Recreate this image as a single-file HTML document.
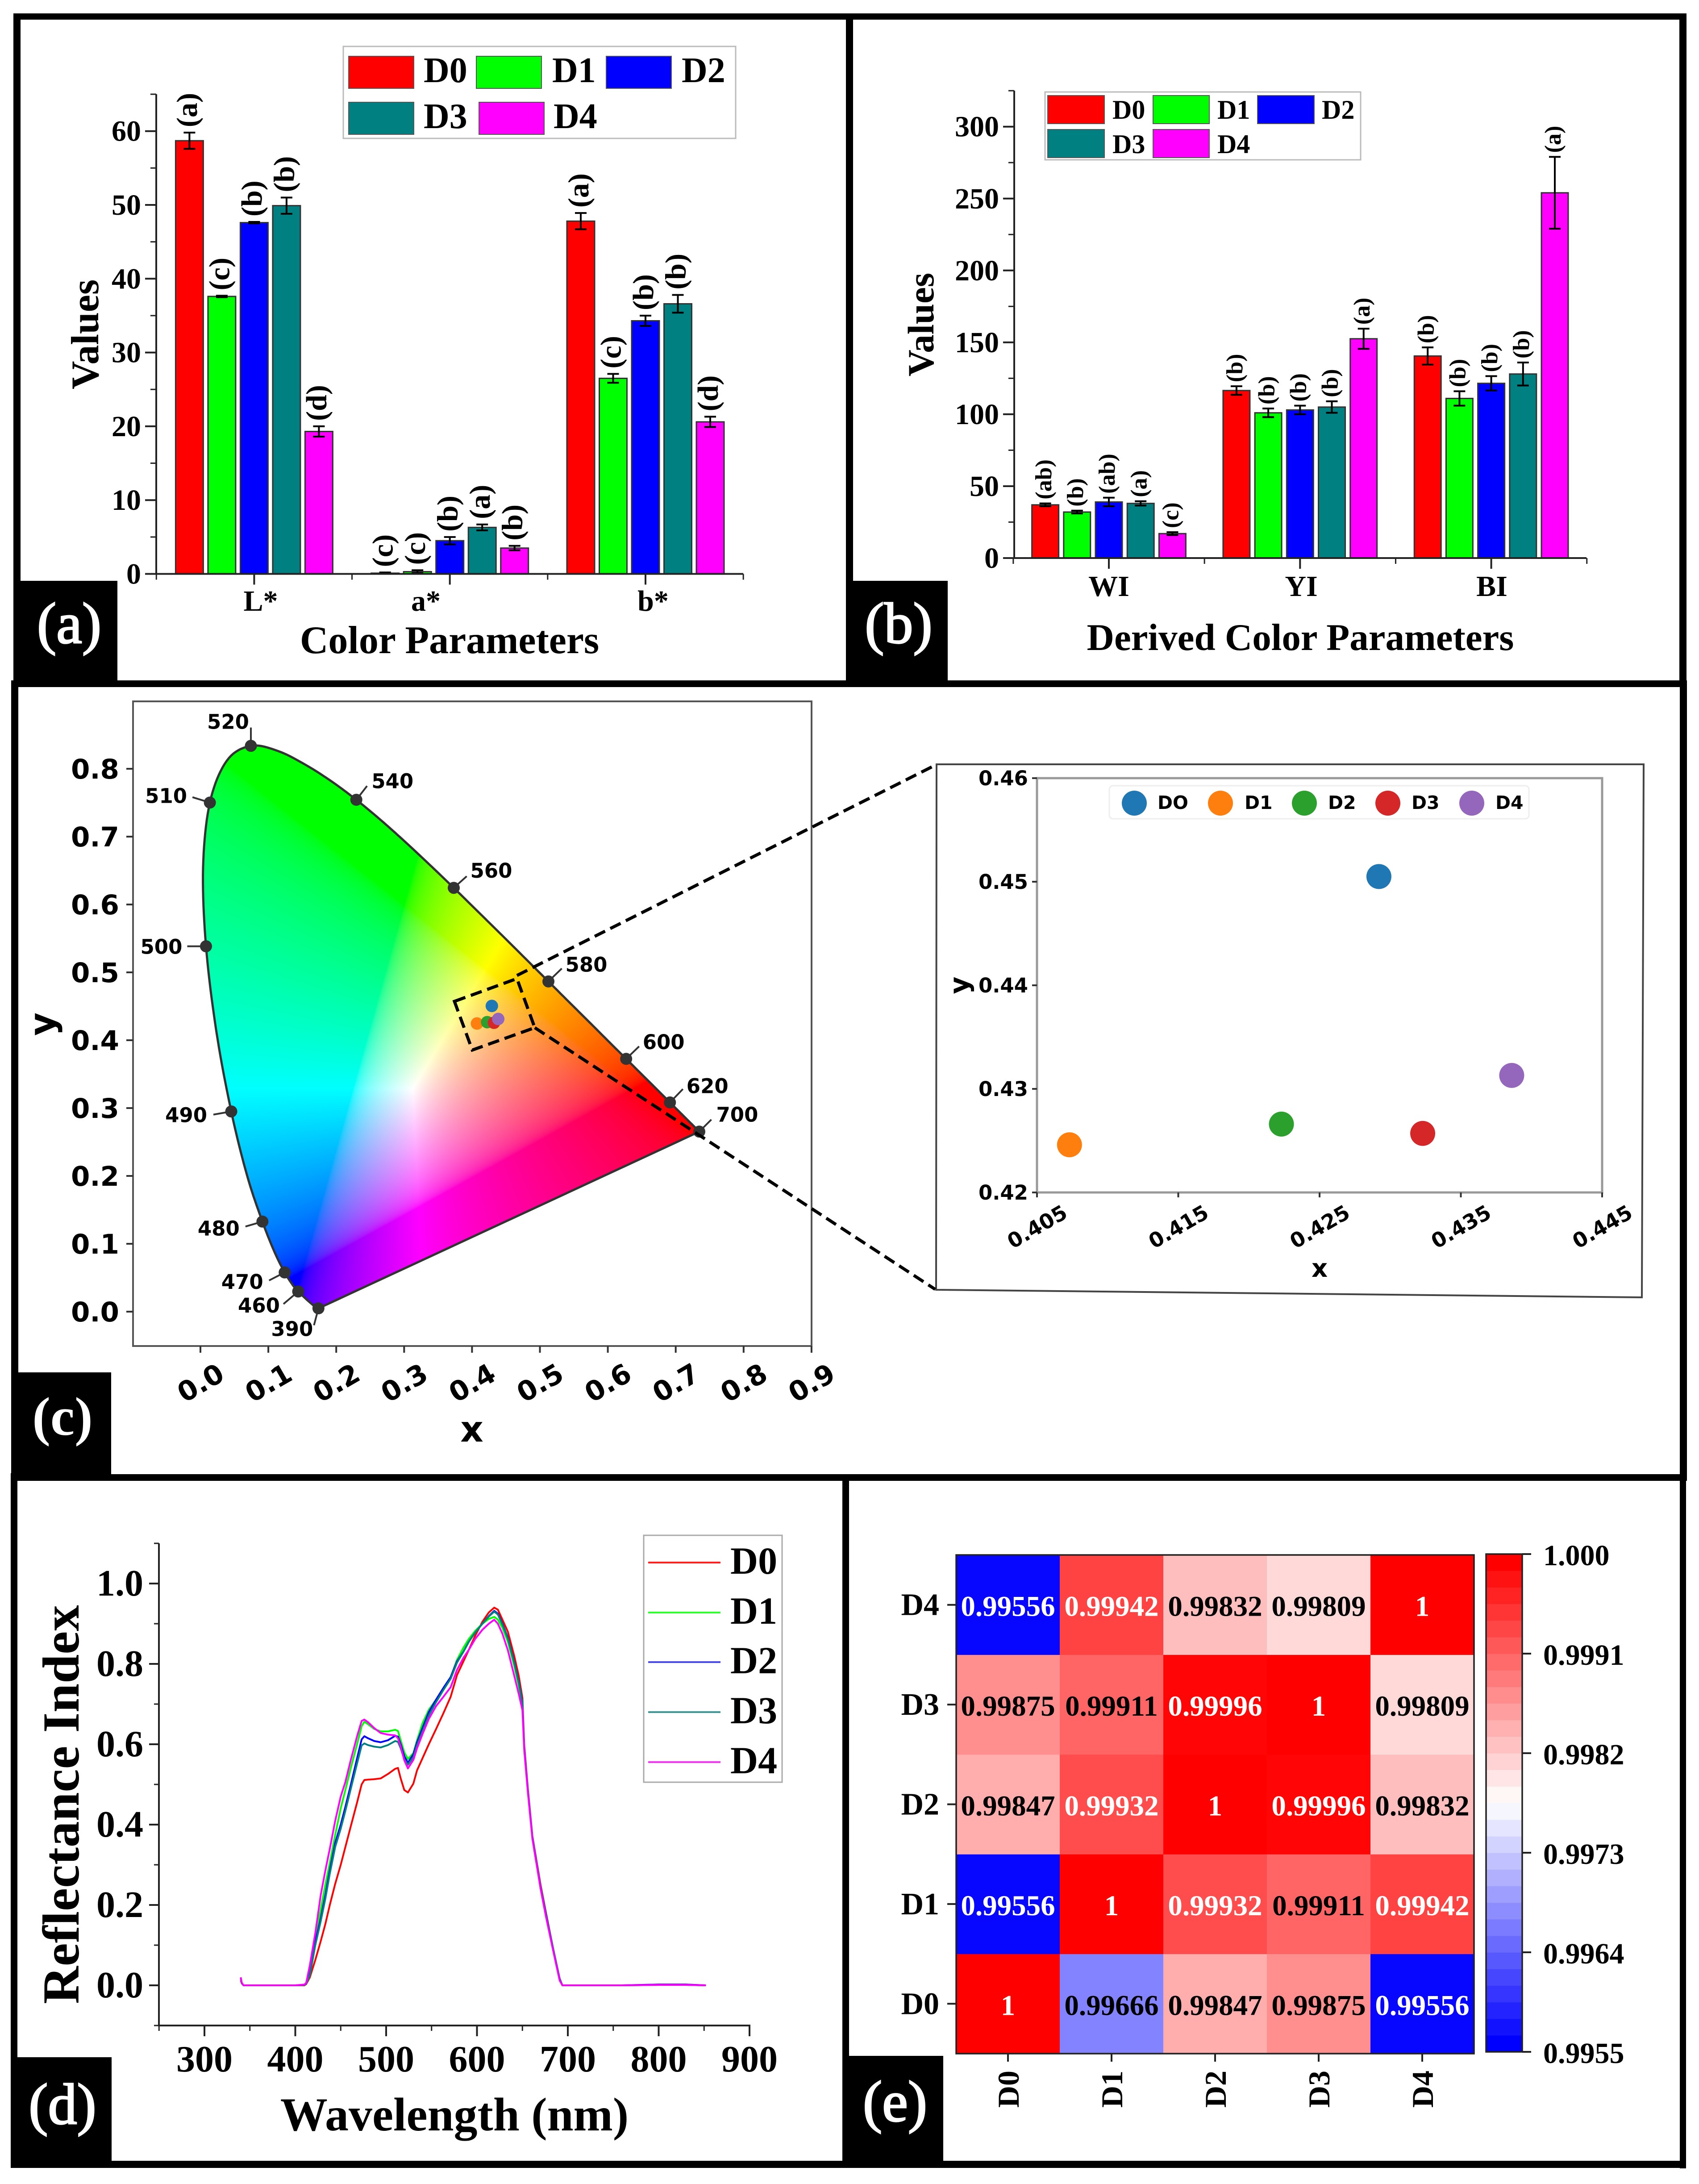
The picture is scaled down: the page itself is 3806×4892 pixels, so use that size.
<!DOCTYPE html>
<html lang="en">
<head>
<meta charset="utf-8">
<title>Color analysis figure</title>
<style>
html,body{margin:0;padding:0;background:#fff;}
body{position:relative;width:3806px;height:4892px;overflow:hidden;}
#gamut{position:absolute;left:430px;top:1640px;}
#chart{position:absolute;left:0;top:0;}
text{fill:#000;}
.tb{font-family:"Liberation Serif",serif;font-weight:bold;}
.tr{font-family:"Liberation Serif",serif;}
.dv{font-family:"DejaVu Sans",sans-serif;font-weight:bold;}
text.pl{fill:#fff;font-size:130px;text-anchor:middle;stroke:#fff;stroke-width:3px;}
</style>
</head>
<body>
<canvas id="gamut" width="1170" height="1320"></canvas>
<svg id="chart" xmlns="http://www.w3.org/2000/svg" width="3806" height="4892" viewBox="0 0 3806 4892">

<g id="panel-a">
  <text class="tb" font-size="88" transform="rotate(-90 220 749)" x="220" y="749" text-anchor="middle">Values</text>
  <text class="tb" font-size="88" x="1007" y="1463" text-anchor="middle">Color Parameters</text>
  <text class="tb" font-size="66" x="584" y="1368" text-anchor="middle">L*</text>
  <text class="tb" font-size="66" x="954" y="1368" text-anchor="middle">a*</text>
  <text class="tb" font-size="66" x="1463" y="1368" text-anchor="middle">b*</text>
  <g>
    <rect x="769" y="104" width="879" height="206" fill="#fff" stroke="#bbb" stroke-width="3"/>
    <rect x="781" y="126" width="146" height="72" fill="#f00" stroke="#555" stroke-width="2"/>
    <rect x="1067" y="126" width="146" height="72" fill="#0f0" stroke="#555" stroke-width="2"/>
    <rect x="1358" y="126" width="146" height="72" fill="#00f" stroke="#555" stroke-width="2"/>
    <rect x="781" y="229" width="146" height="72" fill="#008080" stroke="#555" stroke-width="2"/>
    <rect x="1073" y="229" width="146" height="72" fill="#f0f" stroke="#555" stroke-width="2"/>
    <text class="tb" font-size="80" x="949" y="184">D0</text>
    <text class="tb" font-size="80" x="1237" y="184">D1</text>
    <text class="tb" font-size="80" x="1527" y="184">D2</text>
    <text class="tb" font-size="80" x="949" y="287">D3</text>
    <text class="tb" font-size="80" x="1240" y="287">D4</text>
  </g>
</g>

<g id="panel-b">
  <text class="tb" font-size="83" transform="rotate(-90 2091 727)" x="2091" y="727" text-anchor="middle">Values</text>
  <text class="tb" font-size="85" x="2913" y="1456" text-anchor="middle">Derived Color Parameters</text>
  <text class="tb" font-size="66" x="2484" y="1335" text-anchor="middle">WI</text>
  <text class="tb" font-size="66" x="2915" y="1335" text-anchor="middle">YI</text>
  <text class="tb" font-size="66" x="3342" y="1335" text-anchor="middle">BI</text>
  <g>
    <rect x="2341" y="206" width="707" height="152" fill="#fff" stroke="#bbb" stroke-width="3"/>
    <rect x="2347" y="214" width="127" height="63" fill="#f00" stroke="#555" stroke-width="2"/>
    <rect x="2583" y="214" width="126" height="63" fill="#0f0" stroke="#555" stroke-width="2"/>
    <rect x="2817" y="214" width="127" height="63" fill="#00f" stroke="#555" stroke-width="2"/>
    <rect x="2347" y="290" width="127" height="63" fill="#008080" stroke="#555" stroke-width="2"/>
    <rect x="2583" y="290" width="126" height="63" fill="#f0f" stroke="#555" stroke-width="2"/>
    <text class="tb" font-size="60" x="2492" y="266">D0</text>
    <text class="tb" font-size="60" x="2727" y="266">D1</text>
    <text class="tb" font-size="60" x="2961" y="266">D2</text>
    <text class="tb" font-size="60" x="2492" y="343">D3</text>
    <text class="tb" font-size="60" x="2727" y="343">D4</text>
  </g>
</g>

<g id="panel-c">
  <rect x="298" y="1571" width="1520" height="1444" fill="none" stroke="#555" stroke-width="4"/>
  <text class="dv" font-size="80" x="1057" y="3229" text-anchor="middle">x</text>
  <text class="dv" font-size="80" transform="rotate(-90 122 2294)" x="122" y="2294" text-anchor="middle">y</text>
</g>

<g id="panel-inset">
  <polygon points="2098,1712 3682,1712 3678,2906 2097,2889" fill="#fff" stroke="#444" stroke-width="4"/>
  <rect x="2323" y="1743" width="1266" height="928" fill="none" stroke="#999" stroke-width="5"/>
  <text class="dv" font-size="56" x="2956" y="2860" text-anchor="middle" fill="#222">x</text>
  <text class="dv" font-size="60" transform="rotate(-90 2169 2207)" x="2169" y="2207" text-anchor="middle">y</text>
  <g>
    <rect x="2485" y="1760" width="940" height="74" rx="8" fill="#fff" stroke="#eee" stroke-width="3"/>
    <circle cx="2541" cy="1799" r="28" fill="#1f77b4"/>
    <circle cx="2734" cy="1799" r="28" fill="#ff7f0e"/>
    <circle cx="2922" cy="1799" r="28" fill="#2ca02c"/>
    <circle cx="3109" cy="1799" r="28" fill="#d62728"/>
    <circle cx="3297" cy="1799" r="28" fill="#9467bd"/>
    <text class="dv" font-size="41" x="2593" y="1812">DO</text>
    <text class="dv" font-size="41" x="2788" y="1812">D1</text>
    <text class="dv" font-size="41" x="2975" y="1812">D2</text>
    <text class="dv" font-size="41" x="3162" y="1812">D3</text>
    <text class="dv" font-size="41" x="3350" y="1812">D4</text>
  </g>
</g>

<g id="panel-d">
  <text class="tb" font-size="117" transform="rotate(-90 176 4042)" x="176" y="4042" text-anchor="middle">Reflectance Index</text>
  <text class="tb" font-size="106" x="1018" y="4772" text-anchor="middle">Wavelength (nm)</text>
  <g>
    <rect x="1442" y="3439" width="310" height="553" fill="#fff" stroke="#aaa" stroke-width="3"/>
    <line x1="1452" x2="1614" y1="3500" y2="3500" stroke="#ff2020" stroke-width="4"/>
    <line x1="1452" x2="1614" y1="3612" y2="3612" stroke="#30ff30" stroke-width="4"/>
    <line x1="1452" x2="1614" y1="3723" y2="3723" stroke="#4848ff" stroke-width="4"/>
    <line x1="1452" x2="1614" y1="3835" y2="3835" stroke="#3a9a9a" stroke-width="4"/>
    <line x1="1452" x2="1614" y1="3947" y2="3947" stroke="#ff30ff" stroke-width="4"/>
    <text class="tb" font-size="86" x="1636" y="3525">D0</text>
    <text class="tb" font-size="86" x="1636" y="3637">D1</text>
    <text class="tb" font-size="86" x="1636" y="3748">D2</text>
    <text class="tb" font-size="86" x="1636" y="3860">D3</text>
    <text class="tb" font-size="86" x="1636" y="3972">D4</text>
  </g>
</g>

<g id="panel-e"></g>

<g id="overlay">
  <rect x="30" y="30" width="3748" height="14" fill="#000"/>
  <rect x="30" y="30" width="16" height="1508" fill="#000"/>
  <rect x="25" y="1524" width="16" height="1793" fill="#000"/>
  <rect x="24" y="3300" width="15" height="1555" fill="#000"/>
  <rect x="30" y="1524" width="3748" height="15" fill="#000"/>
  <rect x="1895" y="44" width="16" height="1490" fill="#000"/>
  <rect x="3762" y="30" width="16" height="1508" fill="#000"/>
  <rect x="3763" y="1524" width="16" height="1793" fill="#000"/>
  <rect x="3763" y="3300" width="14" height="1557" fill="#000"/>
  <rect x="25" y="3302" width="3754" height="15" fill="#000"/>
  <rect x="24" y="4840" width="3753" height="16" fill="#000"/>
  <rect x="1887" y="3317" width="15" height="1530" fill="#000"/>
  <rect x="43" y="1301" width="220" height="224" fill="#000"/>
  <text class="tr pl" x="155" y="1440">(a)</text>
  <rect x="1905" y="1301" width="218" height="224" fill="#000"/>
  <text class="tr pl" x="2013" y="1440">(b)</text>
  <rect x="41" y="3074" width="208" height="230" fill="#000"/>
  <text class="tb pl" x="140" y="3214" style="font-size:122px;stroke-width:0">(c)</text>
  <rect x="36" y="4608" width="214" height="232" fill="#000"/>
  <text class="tr pl" x="140" y="4757">(d)</text>
  <rect x="1902" y="4605" width="211" height="238" fill="#000"/>
  <text class="tr pl" x="2005" y="4751">(e)</text>
</g>
</svg>

<script>
const seriesNames = ['D0', 'D1', 'D2', 'D3', 'D4'];
const barColors = ['#ff0000', '#00ff00', '#0000ff', '#008080', '#ff00ff'];

// Panel (a)
const aD0 = [58.7, 0.1, 47.8];
const aD1 = [37.6, 0.3, 26.5];
const aD2 = [47.6, 4.5, 34.3];
const aD3 = [49.9, 6.3, 36.6];
const aD4 = [19.3, 3.5, 20.6];
const aErrD0 = [1.1, 0.1, 1.1];
const aErrD1 = [0.1, 0.2, 0.6];
const aErrD2 = [0.1, 0.5, 0.7];
const aErrD3 = [1.1, 0.4, 1.2];
const aErrD4 = [0.7, 0.3, 0.7];
const aLetD0 = ['(a)', '(c)', '(a)'];
const aLetD1 = ['(c)', '(c)', '(c)'];
const aLetD2 = ['(b)', '(b)', '(b)'];
const aLetD3 = ['(b)', '(a)', '(b)'];
const aLetD4 = ['(d)', '(b)', '(d)'];
const aYTicks = [0, 10, 20, 30, 40, 50, 60];
const aYMinor = [5, 15, 25, 35, 45, 55, 65];

// Panel (b)
const bD0 = [37, 116.5, 140.5];
const bD1 = [32, 101, 111];
const bD2 = [39, 103, 121.5];
const bD3 = [38, 105, 128];
const bD4 = [17, 152.5, 254];
const bErrD0 = [1, 3, 6];
const bErrD1 = [1, 3, 5];
const bErrD2 = [3, 3, 5];
const bErrD3 = [1.5, 4, 8];
const bErrD4 = [1, 7, 25];
const bLetD0 = ['(ab)', '(b)', '(b)'];
const bLetD1 = ['(b)', '(b)', '(b)'];
const bLetD2 = ['(ab)', '(b)', '(b)'];
const bLetD3 = ['(a)', '(b)', '(b)'];
const bLetD4 = ['(c)', '(a)', '(a)'];
const bYTicks = [0, 50, 100, 150, 200, 250, 300];
const bYMinor = [25, 75, 125, 175, 225, 275, 325];

// Panel (c)
const locusWl = [380,390,400,410,420,430,440,450,460,465,470,475,480,485,490,495,500,505,510,515,520,525,530,535,540,545,550,555,560,565,570,575,580,585,590,595,600,610,620,630,640,650,700];
const locusX = [.1741,.1738,.1733,.1726,.1714,.1689,.1644,.1566,.1440,.1355,.1241,.1096,.0913,.0687,.0454,.0235,.0082,.0039,.0139,.0389,.0743,.1142,.1547,.1929,.2296,.2658,.3016,.3373,.3731,.4087,.4441,.4788,.5125,.5448,.5752,.6029,.6270,.6658,.6915,.7079,.7190,.7260,.7347];
const locusY = [.0050,.0049,.0048,.0048,.0051,.0069,.0109,.0177,.0297,.0399,.0578,.0868,.1327,.2007,.2950,.4127,.5384,.6548,.7502,.8120,.8338,.8262,.8059,.7816,.7543,.7243,.6923,.6589,.6245,.5896,.5547,.5202,.4866,.4544,.4242,.3965,.3725,.3340,.3083,.2920,.2809,.2740,.2653];
const markedWl = [390,460,470,480,490,500,510,520,540,560,580,600,620,700];
const cXTicks = ['0.0','0.1','0.2','0.3','0.4','0.5','0.6','0.7','0.8','0.9'];
const cYTicks = ['0.0','0.1','0.2','0.3','0.4','0.5','0.6','0.7','0.8'];
const sampleX = [0.4292, 0.4073, 0.4223, 0.4323, 0.4386];
const sampleY = [0.4505, 0.4246, 0.4266, 0.4257, 0.4313];
const sampleColors = ['#1f77b4', '#ff7f0e', '#2ca02c', '#d62728', '#9467bd'];
const insetXTicks = ['0.405','0.415','0.425','0.435','0.445'];
const insetYTicks = ['0.42','0.43','0.44','0.45','0.46'];

// Panel (d)
const dWl = [340,341,343,350,400,410,412,416,422,428,433,438,444,450,455,461,468,473,476,480,487,494,502,510,513,516,520,524,530,534,540,547,555,563,571,578,585,591,598,606,613,619,623,628,634,641,646,650,652,656,661,670,676,684,691,694,720,760,800,830,852];
const dD0 = [.012,.005,0,0,0,0,.003,.02,.063,.11,.152,.2,.253,.30,.343,.395,.455,.50,.511,.512,.513,.515,.526,.539,.541,.515,.486,.48,.502,.535,.565,.60,.638,.677,.718,.772,.806,.835,.87,.905,.928,.94,.935,.91,.88,.82,.77,.715,.60,.49,.372,.25,.18,.09,.017,0,0,0,.002,.002,0];
const dD1 = [.015,.005,0,0,0,.002,.006,.04,.115,.189,.25,.305,.375,.441,.485,.54,.60,.645,.656,.65,.638,.632,.632,.636,.633,.61,.58,.563,.578,.61,.652,.686,.711,.74,.767,.81,.84,.862,.882,.90,.912,.917,.91,.89,.855,.795,.745,.70,.592,.484,.368,.245,.175,.09,.015,0,0,0,.001,.001,0];
const dD2 = [.018,.006,0,0,0,.001,.005,.03,.108,.167,.224,.287,.355,.40,.443,.498,.565,.612,.62,.615,.608,.605,.61,.621,.619,.60,.57,.554,.575,.605,.64,.68,.711,.74,.767,.806,.83,.855,.878,.90,.919,.932,.925,.90,.865,.805,.755,.705,.594,.486,.37,.245,.177,.09,.016,0,0,0,.002,.002,0];
const dD3 = [.018,.006,0,0,0,.001,.004,.025,.10,.16,.215,.278,.345,.39,.433,.488,.552,.597,.602,.598,.594,.592,.598,.608,.606,.59,.562,.549,.568,.598,.632,.672,.705,.735,.763,.803,.83,.855,.878,.90,.918,.93,.923,.898,.863,.803,.753,.703,.594,.486,.37,.245,.175,.09,.015,0,0,0,.001,.001,0];
const dD4 = [.02,.007,0,0,0,.002,.006,.05,.13,.225,.285,.34,.41,.47,.505,.56,.62,.658,.6615,.655,.64,.628,.624,.622,.615,.595,.56,.54,.561,.59,.625,.663,.695,.718,.742,.785,.815,.835,.862,.885,.90,.91,.90,.875,.834,.771,.725,.685,.586,.48,.365,.24,.17,.085,.012,0,0,0,.001,.001,0];
const dLineColors = ['#ff0000', '#00ff00', '#0000ff', '#008080', '#ff00ff'];
const dXTicks = [300, 400, 500, 600, 700, 800, 900];
const dXMinor = [250, 350, 450, 550, 650, 750, 850];
const dYTicks = ['0.0', '0.2', '0.4', '0.6', '0.8', '1.0'];
const dYMinor = [-0.1, 0.1, 0.3, 0.5, 0.7, 0.9, 1.1];

// Panel (e) (rows bottom to top)
const corrD0 = [1, 0.99666, 0.99847, 0.99875, 0.99556];
const corrD1 = [0.99556, 1, 0.99932, 0.99911, 0.99942];
const corrD2 = [0.99847, 0.99932, 1, 0.99996, 0.99832];
const corrD3 = [0.99875, 0.99911, 0.99996, 1, 0.99809];
const corrD4 = [0.99556, 0.99942, 0.99832, 0.99809, 1];
const cbarTicks = ['0.9955', '0.9964', '0.9973', '0.9982', '0.9991', '1.000'];

const NS = 'http://www.w3.org/2000/svg';
function mk(tag, attrs, parent) {
  const el = document.createElementNS(NS, tag);
  for (const k in attrs) el.setAttribute(k, attrs[k]);
  parent.appendChild(el);
  return el;
}

/* ---------- grouped bar panels ---------- */
function drawBarPanel(g, cfg) {
  const y = cfg.y;
  const axisBase = y(0);
  let el = mk('line', {x1: cfg.axisL, x2: cfg.axisL, y1: y(cfg.yMax), y2: axisBase + 2, stroke: '#222', 'stroke-width': 4}, g);
  
  
  cfg.yTicks.forEach(function (t) {
    const tick = mk('line', {x1: cfg.axisL - 25, x2: cfg.axisL, y1: y(t), y2: y(t), stroke: '#222', 'stroke-width': 4}, g);
    
    
    const lab = mk('text', {class: 'tb', 'font-size': 66, x: cfg.axisL - 34, y: y(t) + 22, 'text-anchor': 'end'}, g);
    
    
    lab.textContent = String(t);
  });
  cfg.yMinor.forEach(function (t) {
    const tick = mk('line', {x1: cfg.axisL - 13, x2: cfg.axisL, y1: y(t), y2: y(t), stroke: '#222', 'stroke-width': 3}, g);
    
    
  });
  cfg.series.forEach(function (vals, s) {
    vals.forEach(function (v, gi) {
      const cx = cfg.groupX(gi) + cfg.step * (s - 2);
      const bar = mk('rect', {x: cx - cfg.barW / 2, y: y(v), width: cfg.barW, height: Math.max(axisBase - y(v), 0), fill: barColors[s], stroke: '#333', 'stroke-width': 3}, g);
      
      
      const e = cfg.errs[s][gi];
      const eb = mk('path', {d: 'M' + (cx - 13) + ' ' + y(v + e) + 'H' + (cx + 13) + 'M' + cx + ' ' + y(v + e) + 'V' + y(v - e) + 'M' + (cx - 13) + ' ' + y(v - e) + 'H' + (cx + 13), fill: 'none', stroke: '#000', 'stroke-width': 4}, g);
      
      
      const tx = cx + 0.2545 * cfg.letterSize;
      const ty = y(v + e) - cfg.letterGap;
      const lt = mk('text', {class: 'tb', 'font-size': cfg.letterSize, x: tx, y: ty, transform: 'rotate(-90 ' + tx + ' ' + ty + ')'}, g);
      
      
      lt.textContent = cfg.letters[s][gi];
    });
  });
  el = mk('line', {x1: cfg.axisL - 2, x2: cfg.axisR, y1: axisBase, y2: axisBase, stroke: '#222', 'stroke-width': 4}, g);
  
  
  const half = (cfg.groupX(1) - cfg.groupX(0)) / 2;
  [0, 1, 2].forEach(function (i) {
    const tick = mk('line', {x1: cfg.groupX(i), x2: cfg.groupX(i), y1: axisBase, y2: axisBase + 24, stroke: '#222', 'stroke-width': 4}, g);
    
    
  });
  [-1, 0, 1, 2].forEach(function (i) {
    const xm = cfg.groupX(i) + half;
    const tick = mk('line', {x1: xm, x2: xm, y1: axisBase, y2: axisBase + 13, stroke: '#222', 'stroke-width': 3}, g);
    
    
  });
}

drawBarPanel(document.getElementById('panel-a'), {
  y: function (v) { return 1285.5 - 16.53 * v; },
  groupX: function (i) { return 569.4 + 438.3 * i; },
  axisL: 350, axisR: 1665, yMax: 65, barW: 62, step: 72.5,
  letterSize: 66, letterGap: 12,
  yTicks: aYTicks, yMinor: aYMinor,
  series: [aD0, aD1, aD2, aD3, aD4],
  errs: [aErrD0, aErrD1, aErrD2, aErrD3, aErrD4],
  letters: [aLetD0, aLetD1, aLetD2, aLetD3, aLetD4]
});
drawBarPanel(document.getElementById('panel-b'), {
  y: function (v) { return 1250 - 3.221 * v; },
  groupX: function (i) { return 2484 + 428.3 * i; },
  axisL: 2272, axisR: 3554, yMax: 325, barW: 60, step: 71.2,
  letterSize: 52, letterGap: 9,
  yTicks: bYTicks, yMinor: bYMinor,
  series: [bD0, bD1, bD2, bD3, bD4],
  errs: [bErrD0, bErrD1, bErrD2, bErrD3, bErrD4],
  letters: [bLetD0, bLetD1, bLetD2, bLetD3, bLetD4]
});

/* ---------- chromaticity panel ---------- */
const xC = function (v) { return 449 + 1521 * v; };
const yC = function (v) { return 2938 - 1520 * v; };

function smoothLocus() {
  const pts = locusX.map(function (x, i) { return [xC(x), yC(locusY[i])]; });
  const out = [];
  const n = pts.length;
  for (let i = 0; i < n - 1; i++) {
    const p0 = pts[Math.max(i - 1, 0)], p1 = pts[i], p2 = pts[i + 1], p3 = pts[Math.min(i + 2, n - 1)];
    for (let k = 0; k < 10; k++) {
      const t = k / 10, t2 = t * t, t3 = t2 * t;
      const f = function (a, b, c, d) { return 0.5 * (2 * b + (c - a) * t + (2 * a - 5 * b + 4 * c - d) * t2 + (3 * b - a - 3 * c + d) * t3); };
      out.push([f(p0[0], p1[0], p2[0], p3[0]), f(p0[1], p1[1], p2[1], p3[1])]);
    }
  }
  out.push(pts[n - 1]);
  return out;
}

(function paintGamut() {
  const cv = document.getElementById('gamut');
  const ox = 430, oy = 1640;
  const w = cv.width, h = cv.height;
  const off = document.createElement('canvas');
  off.width = w; off.height = h;
  const oc = off.getContext('2d');
  const img = oc.createImageData(w, h);
  const d = img.data;
  const enc = function (c) { return 255 * (c <= 0.0031308 ? 12.92 * c : 1.055 * Math.pow(c, 1 / 2.4) - 0.055); };
  for (let j = 0; j < h; j++) {
    const yy = Math.max((2938 - (j + oy)) / 1520, 0.002);
    for (let i = 0; i < w; i++) {
      const xx = (i + ox - 449) / 1521;
      const X = xx / yy, Z = (1 - xx - yy) / yy;
      let r = 3.2406 * X - 1.5372 - 0.4986 * Z;
      let g = -0.9689 * X + 1.8758 + 0.0415 * Z;
      let b = 0.0557 * X - 0.2040 + 1.0570 * Z;
      r = Math.max(r, 0); g = Math.max(g, 0); b = Math.max(b, 0);
      const m = Math.max(r, g, b, 1e-6);
      const p = (j * w + i) * 4;
      d[p] = enc(r / m); d[p + 1] = enc(g / m); d[p + 2] = enc(b / m); d[p + 3] = 255;
    }
  }
  oc.putImageData(img, 0, 0);
  const ctx = cv.getContext('2d');
  ctx.beginPath();
  smoothLocus().forEach(function (pt, i) {
    if (i === 0) ctx.moveTo(pt[0] - ox, pt[1] - oy); else ctx.lineTo(pt[0] - ox, pt[1] - oy);
  });
  ctx.closePath();
  ctx.clip();
  ctx.drawImage(off, 0, 0);
})();

(function drawPanelC() {
  const g = document.getElementById('panel-c');
  const pts = smoothLocus().map(function (pt) { return pt[0].toFixed(1) + ',' + pt[1].toFixed(1); }).join(' ');
  const outline = mk('polygon', {points: pts, fill: 'none', stroke: '#333', 'stroke-width': 5, 'stroke-linejoin': 'round'}, g);
  
  

  cXTicks.forEach(function (t) {
    const v = parseFloat(t);
    const tx = xC(v);
    const tick = mk('line', {x1: tx, x2: tx, y1: 3015, y2: 3030, stroke: '#333', 'stroke-width': 4}, g);
    
    
    const lab = mk('text', {class: 'dv', 'font-size': 61, x: tx, y: 3097 + 22, 'text-anchor': 'middle', transform: 'rotate(-30 ' + tx + ' 3097)'}, g);
    
    
    lab.textContent = t;
  });
  cYTicks.forEach(function (t) {
    const ty = yC(parseFloat(t));
    const tick = mk('line', {x1: 283, x2: 298, y1: ty, y2: ty, stroke: '#333', 'stroke-width': 4}, g);
    
    
    const lab = mk('text', {class: 'dv', 'font-size': 61, x: 267, y: ty + 22, 'text-anchor': 'end'}, g);
    
    
    lab.textContent = t;
  });

  const leaderOffsets = {390:[-10,38,-59,46],460:[-33,28,-88,31],470:[-35,18,-95,21],480:[-38,11,-98,15],490:[-40,7,-101,8],500:[-42,0,-100,1],510:[-39,-12,-98,-15],520:[0,-41,-51,-54],540:[24,-31,81,-42],560:[29,-26,84,-39],580:[30,-29,85,-38],600:[29,-28,84,-38],620:[29,-30,84,-37],700:[27,-27,85,-38]};
  markedWl.forEach(function (wl) {
    const i = locusWl.indexOf(wl);
    const px = xC(locusX[i]), py = yC(locusY[i]);
    const o = leaderOffsets[wl];
    const leader = mk('line', {x1: px, y1: py, x2: px + o[0], y2: py + o[1], stroke: '#333', 'stroke-width': 4}, g);
    
    
    const dot = mk('circle', {cx: px, cy: py, r: 13.5, fill: '#333'}, g);
    
    
    const lab = mk('text', {class: 'dv', 'font-size': 45, x: px + o[2], y: py + o[3] + 16, 'text-anchor': 'middle'}, g);
    
    
    lab.textContent = String(wl);
  });

  sampleX.forEach(function (x, i) {
    const dot = mk('circle', {cx: xC(x), cy: yC(sampleY[i]), r: 14, fill: sampleColors[i]}, g);
    
    
  });

  const box = mk('polygon', {points: '1018,2243 1158,2192 1198,2302 1058,2352', fill: 'none', stroke: '#000', 'stroke-width': 7, 'stroke-dasharray': '26 13'}, g);
  
  
})();

(function drawInset() {
  const g = document.getElementById('panel-inset');
  const xI = function (v) { return 2323 + (v - 0.405) * 31650; };
  const yI = function (v) { return 2671 - (v - 0.42) * 23200; };
  insetXTicks.forEach(function (t) {
    const tx = xI(parseFloat(t));
    const tick = mk('line', {x1: tx, x2: tx, y1: 2671, y2: 2682, stroke: '#333', 'stroke-width': 4}, g);
    
    
    const lab = mk('text', {class: 'dv', 'font-size': 46, x: tx, y: 2747 + 17, 'text-anchor': 'middle', fill: '#222', transform: 'rotate(-30 ' + tx + ' 2747)'}, g);
    
    
    lab.textContent = t;
  });
  insetYTicks.forEach(function (t) {
    const ty = yI(parseFloat(t));
    const tick = mk('line', {x1: 2312, x2: 2323, y1: ty, y2: ty, stroke: '#333', 'stroke-width': 4}, g);
    
    
    const lab = mk('text', {class: 'dv', 'font-size': 45, x: 2303, y: ty + 16, 'text-anchor': 'end', fill: '#222'}, g);
    
    
    lab.textContent = t;
  });
  sampleX.forEach(function (x, i) {
    const dot = mk('circle', {cx: xI(x), cy: yI(sampleY[i]), r: 28, fill: sampleColors[i]}, g);
    
    
  });
  const l1 = mk('line', {x1: 1158, y1: 2185, x2: 2095, y2: 1714, stroke: '#000', 'stroke-width': 7, 'stroke-dasharray': '26 13'}, g);
  
  
  const l2 = mk('line', {x1: 1198, y1: 2302, x2: 2095, y2: 2888, stroke: '#000', 'stroke-width': 7, 'stroke-dasharray': '26 13'}, g);
  
  
})();

/* ---------- reflectance panel ---------- */
(function drawPanelD() {
  const g = document.getElementById('panel-d');
  const xD = function (nm) { return 458 + (nm - 300) * 2.035; };
  const yD = function (v) { return 4447 - 900 * v; };
  let ax = mk('line', {x1: 356, x2: 356, y1: yD(1.1), y2: yD(-0.1) + 2, stroke: '#222', 'stroke-width': 4}, g);
  
  
  ax = mk('line', {x1: 354, x2: xD(900) + 2, y1: yD(-0.1), y2: yD(-0.1), stroke: '#222', 'stroke-width': 4}, g);
  
  
  dYTicks.forEach(function (t) {
    const ty = yD(parseFloat(t));
    const tick = mk('line', {x1: 334, x2: 356, y1: ty, y2: ty, stroke: '#222', 'stroke-width': 4}, g);
    
    
    const lab = mk('text', {class: 'tb', 'font-size': 84, x: 321, y: ty + 27, 'text-anchor': 'end'}, g);
    
    
    lab.textContent = t;
  });
  dYMinor.forEach(function (t) {
    const tick = mk('line', {x1: 345, x2: 356, y1: yD(t), y2: yD(t), stroke: '#222', 'stroke-width': 3}, g);
    
    
  });
  dXTicks.forEach(function (t) {
    const tx = xD(t);
    const tick = mk('line', {x1: tx, x2: tx, y1: yD(-0.1), y2: yD(-0.1) + 24, stroke: '#222', 'stroke-width': 4}, g);
    
    
    const lab = mk('text', {class: 'tb', 'font-size': 84, x: tx, y: 4640, 'text-anchor': 'middle'}, g);
    
    
    lab.textContent = String(t);
  });
  dXMinor.forEach(function (t) {
    const tick = mk('line', {x1: xD(t), x2: xD(t), y1: yD(-0.1), y2: yD(-0.1) + 12, stroke: '#222', 'stroke-width': 3}, g);
    
    
  });
  [dD0, dD1, dD2, dD3, dD4].forEach(function (vals, s) {
    const p = vals.map(function (v, i) { return xD(dWl[i]).toFixed(1) + ',' + yD(v).toFixed(1); }).join(' ');
    const line = mk('polyline', {points: p, fill: 'none', stroke: dLineColors[s], 'stroke-width': 4, 'stroke-linejoin': 'round'}, g);
    
    
  });
})();

/* ---------- correlation heatmap ---------- */
(function drawPanelE() {
  const g = document.getElementById('panel-e');
  const rows = [corrD0, corrD1, corrD2, corrD3, corrD4];
  const L = 2142, T = 3483, CW = 232, CH = 223.4;
  const vMin = 0.9955, vMax = 1;
  const bwr = function (t) {
    t = Math.min(Math.max(t, 0), 1);
    const c = t < 0.5 ? [2 * t, 2 * t, 1] : [1, 2 * (1 - t), 2 * (1 - t)];
    return 'rgb(' + c.map(function (v) { return Math.round(v * 255); }).join(',') + ')';
  };
  rows.forEach(function (row, r) {
    row.forEach(function (v, c) {
      const x = L + c * CW, y = T + (4 - r) * CH;
      const cell = mk('rect', {x: x, y: y, width: CW + 0.5, height: CH + 0.5, fill: bwr((v - vMin) / (vMax - vMin))}, g);
      
      
      const white = v >= 0.9992 || v < 0.996;
      const lab = mk('text', {class: 'tb', 'font-size': 65, x: x + CW / 2, y: y + CH / 2 + 25, 'text-anchor': 'middle', style: 'fill:' + (white ? '#fff' : '#000')}, g);
      
      
      lab.textContent = String(v);
    });
  });
  const frame = mk('rect', {x: L, y: T, width: CW * 5, height: CH * 5, fill: 'none', stroke: '#222', 'stroke-width': 3.5}, g);
  
  
  seriesNames.forEach(function (n, i) {
    const cy = T + (4 - i) * CH + CH / 2;
    const cx = L + i * CW + CW / 2;
    const t1 = mk('line', {x1: L - 20, x2: L, y1: cy, y2: cy, stroke: '#222', 'stroke-width': 4}, g);
    
    
    const l1 = mk('text', {class: 'tb', 'font-size': 70, x: 2104, y: cy + 23, 'text-anchor': 'end'}, g);
    
    
    l1.textContent = n;
    const t2 = mk('line', {x1: cx, x2: cx, y1: T + CH * 5, y2: T + CH * 5 + 18, stroke: '#222', 'stroke-width': 4}, g);
    
    
    const l2 = mk('text', {class: 'tb', 'font-size': 68, x: cx + 24, y: 4638, 'text-anchor': 'end', transform: 'rotate(-90 ' + (cx + 24) + ' 4638)'}, g);
    
    
    l2.textContent = n;
  });
  const cbT = 3481, cbH = 1115, cbL = 3329, cbW = 81, levels = 30;
  for (let i = 0; i < levels; i++) {
    const seg = mk('rect', {x: cbL, y: cbT + cbH * (levels - 1 - i) / levels, width: cbW, height: cbH / levels + 0.6, fill: bwr(i / (levels - 1))}, g);
    
    
  }
  const cbf = mk('rect', {x: cbL, y: cbT, width: cbW, height: cbH, fill: 'none', stroke: '#222', 'stroke-width': 3.5}, g);
  
  
  cbarTicks.forEach(function (t) {
    const v = parseFloat(t);
    const ty = cbT + cbH * (1 - (v - vMin) / (vMax - vMin));
    const tick = mk('line', {x1: cbL + cbW, x2: cbL + cbW + 20, y1: ty, y2: ty, stroke: '#222', 'stroke-width': 4}, g);
    
    
    const lab = mk('text', {class: 'tb', 'font-size': 66, x: 3457, y: ty + 25}, g);
    
    
    lab.textContent = t;
  });
})();
</script>
</body>
</html>
